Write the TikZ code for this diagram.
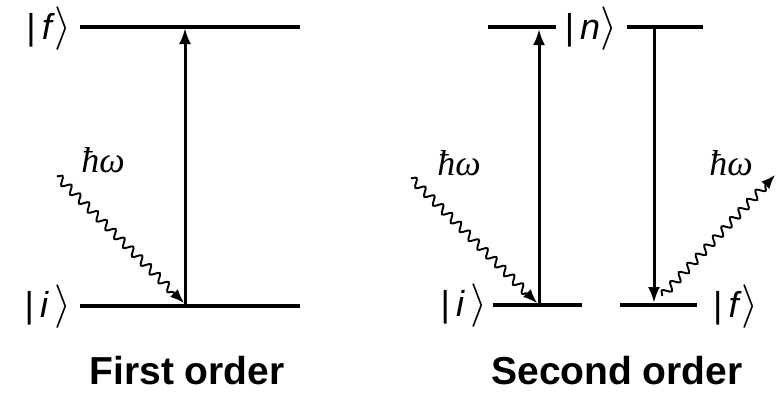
\documentclass[tikz,border=0pt]{standalone}
\usepackage{fontspec}
\setmainfont{Liberation Sans}
\newfontfamily\hwfont{Liberation Serif}
\usetikzlibrary{arrows.meta,decorations.pathmorphing}
\newcommand{\ketbr}{\raisebox{-0.5pt}[26pt][8pt]{\scalebox{1.75}{$\rangle$}}}
\begin{document}
\begin{tikzpicture}[x=1pt,y=-1pt,
  level/.style={line width=3.4pt},
  trans/.style={line width=3pt,-{Latex[length=16pt,width=12pt]}},
  photon/.style={line width=1.9pt,-{Latex[length=14pt,width=11pt]},
    decorate,decoration={snake,amplitude=4pt,segment length=12.5pt,post length=10pt}},
  ket/.style={inner sep=0pt,font=\fontsize{36}{38}\selectfont},
  hw/.style={inner sep=0pt,font=\fontsize{36}{38}\selectfont\hwfont\itshape},
  title/.style={inner sep=0pt,font=\fontsize{39}{42}\selectfont\bfseries}]
\useasboundingbox (0,0) rectangle (777,394);
% ---------- First order ----------
\coordinate (fL) at (80,27);  \coordinate (fR) at (300,27);
\coordinate (iL) at (80,306); \coordinate (iR) at (300,306);
\draw[level] (fL) -- (fR);
\draw[level] (iL) -- (iR);
\node[ket,anchor=base east] (kf1) at (72,39) {|\,\textit{f}\ketbr};
\node[ket,anchor=base east] (ki1) at (72,317) {|\,\textit{i}\,\ketbr};
\coordinate (a1b) at (185,306); \coordinate (a1t) at (185,28);
\draw[trans] (a1b) -- (a1t);
\coordinate (p1s) at (57,176); \coordinate (p1e) at (184,303);
\draw[photon] (p1s) -- (p1e);
\node[hw] (hw1) at (103,160) {ħω};
\node[title] (t1) at (187,371) {First order};
% ---------- Second order ----------
\coordinate (n1L) at (488,27); \coordinate (n1R) at (556,27);
\coordinate (n2L) at (627,27); \coordinate (n2R) at (703,27);
\draw[level] (n1L) -- (n1R);
\draw[level] (n2L) -- (n2R);
\node[ket,anchor=base] (kn) at (591,39) {|\,\textit{n}\ketbr};
\coordinate (i2L) at (493,305); \coordinate (i2R) at (582,305);
\coordinate (f2L) at (620,305); \coordinate (f2R) at (697,305);
\draw[level] (i2L) -- (i2R);
\draw[level] (f2L) -- (f2R);
\node[ket,anchor=base east] (ki2) at (488,316) {|\,\textit{i}\,\ketbr};
\node[ket,anchor=base west] (kf2) at (713,317) {|\,\textit{f}\ketbr};
\coordinate (a2b) at (539,305); \coordinate (a2t) at (539,29);
\draw[trans] (a2b) -- (a2t);
\coordinate (a3t) at (654,27); \coordinate (a3b) at (654,303);
\draw[trans] (a3t) -- (a3b);
\coordinate (p2s) at (411,178); \coordinate (p2e) at (537,303);
\draw[photon] (p2s) -- (p2e);
\node[hw] (hw2) at (459,163) {ħω};
\coordinate (p3s) at (662,296); \coordinate (p3e) at (775,175);
\draw[photon] (p3s) -- (p3e);
\node[hw] (hw3) at (731,163) {ħω};
\node[title] (t2) at (617,371) {Second order};
\end{tikzpicture}
\end{document}
